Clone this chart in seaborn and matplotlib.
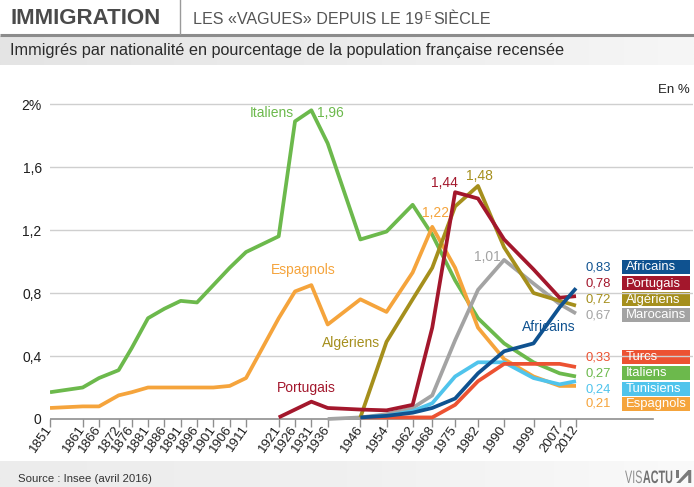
import numpy as np
import pandas as pd
import matplotlib
matplotlib.use("Agg")
import matplotlib.pyplot as plt
from matplotlib.patches import Rectangle, Polygon, PathPatch
from matplotlib.textpath import TextPath
from matplotlib.font_manager import FontProperties
from matplotlib.transforms import Affine2D
import seaborn as sns

# Census years (the axis ticks)
years = [1851, 1861, 1866, 1872, 1876, 1881, 1886, 1891, 1896, 1901, 1906, 1911,
         1921, 1926, 1931, 1936, 1946, 1954, 1962, 1968, 1975, 1982, 1990, 1999,
         2007, 2012]
years_from_1921 = years[12:]
years_from_1936 = years[15:]
years_from_1946 = years[16:]

# Share of the census population, in %
italiens = [0.17, 0.20, 0.26, 0.31, 0.45, 0.64, 0.70, 0.75, 0.74, 0.85, 0.96, 1.06,
            1.16, 1.89, 1.96, 1.75, 1.14, 1.19, 1.36, 1.17, 0.88, 0.64, 0.48, 0.36,
            0.29, 0.27]
espagnols = [0.07, 0.08, 0.08, 0.15, 0.17, 0.20, 0.20, 0.20, 0.20, 0.20, 0.21, 0.26,
             0.64, 0.81, 0.85, 0.60, 0.76, 0.68, 0.93, 1.22, 0.96, 0.58, 0.38, 0.27,
             0.21, 0.21]
portugais = [0.01, 0.06, 0.11, 0.07, 0.06, 0.055, 0.09, 0.58, 1.44, 1.40, 1.14, 0.95,
             0.77, 0.78]
marocains = [0.0, 0.01, 0.03, 0.07, 0.15, 0.50, 0.82, 1.01, 0.86, 0.73, 0.67]
algeriens = [0.01, 0.49, 0.76, 0.96, 1.35, 1.48, 1.09, 0.80, 0.75, 0.72]
tunisiens = [0.01, 0.02, 0.05, 0.10, 0.27, 0.36, 0.36, 0.26, 0.22, 0.24]
africains = [0.01, 0.02, 0.04, 0.07, 0.13, 0.29, 0.43, 0.48, 0.71, 0.83]
turcs = [0.01, 0.01, 0.01, 0.01, 0.09, 0.24, 0.35, 0.35, 0.35, 0.33]

series = {
    "Italiens": (years, italiens),
    "Espagnols": (years, espagnols),
    "Marocains": (years_from_1936, marocains),
    "Tunisiens": (years_from_1946, tunisiens),
    "Turcs": (years_from_1946, turcs),
    "Algériens": (years_from_1946, algeriens),
    "Portugais": (years_from_1921, portugais),
    "Africains": (years_from_1946, africains),
}
colors = {
    "Italiens": "#6cb94c",
    "Espagnols": "#f5a43c",
    "Portugais": "#a3172c",
    "Algériens": "#a58f1c",
    "Marocains": "#a3a3a3",
    "Africains": "#0f5290",
    "Turcs": "#ec5232",
    "Tunisiens": "#50c4ec",
}

df = pd.concat(
    [pd.DataFrame({"annee": yr, "pct": vals, "nationalite": name})
     for name, (yr, vals) in series.items()],
    ignore_index=True,
)

W, H = 694, 487
FONT = ["Liberation Sans", "DejaVu Sans"]
plt.rcParams["font.family"] = FONT

fig = plt.figure(figsize=(W / 100, H / 100), dpi=100)


def fx(x):
    return x / W


def fy(y):
    return 1 - y / H


# ---- header and footer bands -------------------------------------------------
bg = fig.add_axes([0, 0, 1, 1], zorder=-10)
bg.set_xlim(0, W)
bg.set_ylim(H, 0)
bg.axis("off")
grad = np.linspace(0, 1, 256)[None, :]
band_cmap = matplotlib.colors.LinearSegmentedColormap.from_list(
    "band", ["#e4e4e4", "#ececec", "#f6f6f6"])
bg.imshow(grad, extent=[0, W, 65, 36], cmap=band_cmap, aspect="auto")
foot_cmap = matplotlib.colors.LinearSegmentedColormap.from_list(
    "foot", ["#ececec", "#f0f0f0", "#fafafa"])
bg.imshow(grad, extent=[0, W, H, 461], cmap=foot_cmap, aspect="auto")
bg.plot([0, W], [34.5, 34.5], color="#8c8c8c", lw=2.2, solid_capstyle="butt")
bg.plot([180, 180], [0, 34], color="#9a9a9a", lw=1.0)

fig.text(fx(10), fy(18), "IMMIGRATION", fontsize=16, fontweight="bold",
         color="#4a4a4a", va="center", ha="left")
sub = fig.text(fx(193), fy(19), "LES «VAGUES» DEPUIS LE 19", fontsize=11.6,
               color="#555555", va="center", ha="left")
fig.canvas.draw()
ext = sub.get_window_extent()
sup = fig.text(ext.x1 / W + 0.001, fy(16), "E", fontsize=7, color="#555555",
               va="center", ha="left")
fig.canvas.draw()
ext2 = sup.get_window_extent()
fig.text(ext2.x1 / W + 0.004, fy(19), "SIÈCLE", fontsize=11.6, color="#555555",
         va="center", ha="left")
fig.text(fx(10), fy(50), "Immigrés par nationalité en pourcentage de la population "
         "française recensée", fontsize=11.7, color="#2b2b2b", va="center", ha="left")
fig.text(fx(18), fy(479), "Source : Insee (avril 2016)", fontsize=8.2, color="#333333",
         va="center", ha="left")
fig.text(fx(690), fy(90), "En %", fontsize=9.5, color="#222222", va="center",
         ha="right")

# logo: condensed lettering drawn as paths
squeeze = 0.6
tp_light = TextPath((0, 0), "VIS", size=18, prop=FontProperties(family="Liberation Sans"))
tp_bold = TextPath((0, 0), "ACTU", size=18,
                   prop=FontProperties(family="Liberation Sans", weight="bold"))
lx, ly = 625, 483
bg.add_patch(PathPatch(tp_light, color="#8e8e8e", lw=0,
                       transform=Affine2D().scale(squeeze, -1).translate(lx, ly)
                       + bg.transData))
lx2 = lx + tp_light.get_extents().x1 * squeeze + 1
bg.add_patch(PathPatch(tp_bold, color="#707070", lw=0,
                       transform=Affine2D().scale(squeeze, -1).translate(lx2, ly)
                       + bg.transData))
ix = lx2 + tp_bold.get_extents().x1 * squeeze + 4
bg.add_patch(Polygon([[ix, ly], [ix + 12, ly - 13], [ix + 15, ly - 13], [ix + 15, ly],
                      [ix + 12, ly], [ix + 12, ly - 8], [ix + 4, ly]],
                     closed=True, color="#7a7a7a", lw=0))
bg.add_patch(Rectangle((ix, ly - 13), 2.5, 8, color="#7a7a7a", lw=0))

# ---- chart ------------------------------------------------------------------
px_per_year = 526 / (2012 - 1851)
x_left_px, x_right_px = 50, 693
xmin = 1851
xmax = 1851 + (x_right_px - x_left_px) / px_per_year
ymin, ymax = -0.05, 2.1
px_per_unit = 157.5
y_zero_px = 419
bottom_px = y_zero_px + (0 - ymin) * px_per_unit
top_px = y_zero_px - ymax * px_per_unit

ax = fig.add_axes([fx(x_left_px), fy(bottom_px), (x_right_px - x_left_px) / W,
                   (bottom_px - top_px) / H])
ax.set_xlim(xmin, xmax)
ax.set_ylim(ymin, ymax)
ax.patch.set_alpha(0)

yticks = [0, 0.4, 0.8, 1.2, 1.6, 2.0]
for v in yticks[1:]:
    ax.axhline(v, color="#cfcfcf", lw=1.0, zorder=0)
baseline_end = (653 - x_left_px) / (x_right_px - x_left_px)
ax.axhline(0, xmin=0, xmax=baseline_end, color="#8f8f8f", lw=1.2, zorder=1)

sns.lineplot(data=df, x="annee", y="pct", hue="nationalite",
             hue_order=list(series.keys()), palette=colors, estimator=None,
             sort=False, linewidth=2.7, legend=False, ax=ax)
for line in ax.lines[-len(series):]:
    line.set_solid_joinstyle("round")
    line.set_solid_capstyle("butt")

for s in ax.spines.values():
    s.set_visible(False)
ax.set_xlabel("")
ax.set_ylabel("")

ax.set_yticks(yticks)
ax.set_yticklabels(["0", "0,4", "0,8", "1,2", "1,6", "2%"])
ax.tick_params(axis="y", length=0, pad=6, labelsize=10, labelcolor="#1e1e1e")
ax.set_xticks(years)
ax.set_xticklabels([str(y) for y in years], rotation=55, ha="right",
                   rotation_mode="anchor", va="center")
ax.tick_params(axis="x", direction="in", length=6, width=1, color="#8f8f8f",
               pad=0, labelsize=9.6, labelcolor="#1e1e1e")


def fmt(v):
    return f"{v:.2f}".replace(".", ",")


# series names along the curves
ax.text(1925.5, 1.945, "Italiens", color=colors["Italiens"], fontsize=10,
        ha="right", va="center")
ax.text(1932.8, 1.945, fmt(max(italiens)), color=colors["Italiens"], fontsize=10,
        ha="left", va="center")
ax.text(1928.6, 0.946, "Espagnols", color=colors["Espagnols"], fontsize=10,
        ha="center", va="center")
ax.text(1943.1, 0.483, "Algériens", color=colors["Algériens"], fontsize=10,
        ha="center", va="center")
ax.text(1929.5, 0.197, "Portugais", color=colors["Portugais"], fontsize=10,
        ha="center", va="center")
ax.text(2003.6, 0.584, "Africains", color=colors["Africains"], fontsize=10,
        ha="center", va="center")

# peak values
ax.text(1971.6, 1.50, fmt(max(portugais)), color=colors["Portugais"], fontsize=10,
        ha="center", va="center")
ax.text(1982.3, 1.54, fmt(max(algeriens)), color=colors["Algériens"], fontsize=10,
        ha="center", va="center")
ax.text(1969.1, 1.31, fmt(max(espagnols)), color=colors["Espagnols"], fontsize=10,
        ha="center", va="center")
ax.text(1984.8, 1.03, fmt(max(marocains)), color=colors["Marocains"], fontsize=10,
        ha="center", va="center")

# end-of-line value tags
tags = [("Africains", 267), ("Portugais", 283), ("Algériens", 299),
        ("Marocains", 315), ("Turcs", 357), ("Italiens", 373),
        ("Tunisiens", 389), ("Espagnols", 404)]
for name, ypx in tags:
    last = series[name][1][-1]
    fig.text(fx(611), fy(ypx), fmt(last), color=colors[name], fontsize=9.4,
             ha="right", va="center")
    bg.add_patch(Rectangle((622, ypx - 7), 68, 14, color=colors[name], lw=0))
    fig.text(fx(626), fy(ypx + 0.5), name, color="white", fontsize=9.4, ha="left",
             va="center")

fig.savefig("out.png", dpi=100)
